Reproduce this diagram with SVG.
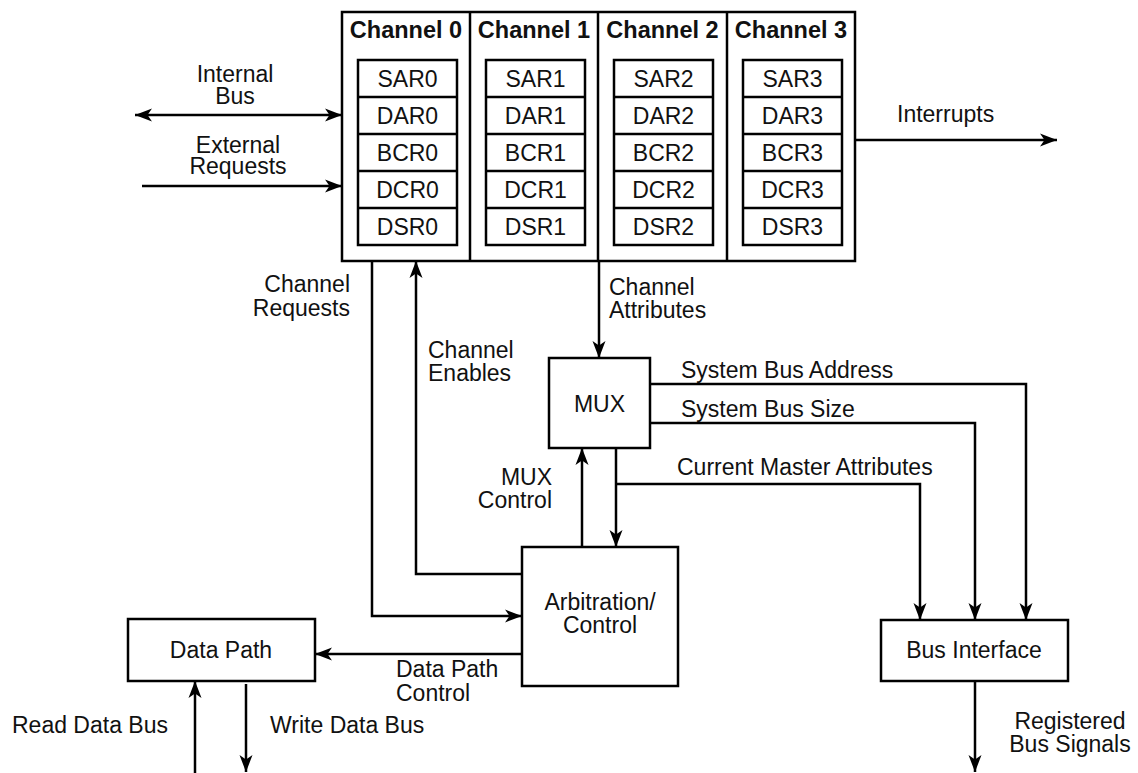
<svg xmlns="http://www.w3.org/2000/svg" width="1138" height="773" viewBox="0 0 1138 773">
<defs>
<marker id="ah" markerUnits="userSpaceOnUse" markerWidth="20" markerHeight="16" refX="17" refY="8" orient="auto-start-reverse" viewBox="0 0 20 16">
<path d="M0,1.5 L17,8 L0,14.5 L4.5,8 z" fill="#000"/>
</marker>
<style>
.box{fill:#fff;stroke:#000;stroke-width:2.5}
.reg{fill:none;stroke:#000;stroke-width:2.5}
.ln{fill:none;stroke:#000;stroke-width:2.5}
.t{font-family:"Liberation Sans",Arial,Helvetica,sans-serif;font-size:23px;fill:#111}
.h{font-family:"Liberation Sans",Arial,Helvetica,sans-serif;font-size:23.5px;font-weight:bold;fill:#111}
.c{text-anchor:middle}
.e{text-anchor:end}
.arr{fill:none;stroke:#000;stroke-width:2.5;marker-end:url(#ah)}
</style>
</defs>
<rect width="1138" height="773" fill="#fff"/>

<g id="connectors">
<line class="arr" x1="135" y1="115" x2="342" y2="115" style="marker-start:url(#ah)"/>
<line class="arr" x1="142" y1="186" x2="342" y2="186"/>
<line class="arr" x1="856" y1="140" x2="1057" y2="140"/>
<path class="arr" d="M372,261 V616 H522"/>
<path class="arr" d="M522,574 H416 V261"/>
<path class="arr" d="M599,261 V358"/>
<path class="arr" d="M582,547 V448"/>
<path class="arr" d="M616,448 V547"/>
<path class="arr" d="M616,484 H920 V620"/>
<path class="arr" d="M650,384 H1026 V620"/>
<path class="arr" d="M650,423 H975 V620"/>
<path class="arr" d="M522,654 H315"/>
<path class="arr" d="M195,773 V681"/>
<path class="arr" d="M246,684 V772"/>
<path class="arr" d="M975,681 V772"/>
</g>

<g id="labels">
<text class="t c"><tspan x="235" y="82">Internal</tspan><tspan x="235" y="104">Bus</tspan></text>
<text class="t c"><tspan x="238" y="153">External</tspan><tspan x="238" y="174">Requests</tspan></text>
<text class="t" x="897" y="122">Interrupts</text>
<text class="t e"><tspan x="350" y="292">Channel</tspan><tspan x="350" y="316">Requests</tspan></text>
<text class="t"><tspan x="428" y="358">Channel</tspan><tspan x="428" y="381">Enables</tspan></text>
<text class="t"><tspan x="609" y="295">Channel</tspan><tspan x="609" y="318">Attributes</tspan></text>
<text class="t" x="681" y="378">System Bus Address</text>
<text class="t" x="681" y="417">System Bus Size</text>
<text class="t" x="677" y="475">Current Master Attributes</text>
<text class="t e"><tspan x="552" y="485">MUX</tspan><tspan x="552" y="508">Control</tspan></text>
<text class="t"><tspan x="396" y="677">Data Path</tspan><tspan x="396" y="701">Control</tspan></text>
<text class="t" x="12" y="733">Read Data Bus</text>
<text class="t" x="270" y="733">Write Data Bus</text>
<text class="t c"><tspan x="1070" y="729">Registered</tspan><tspan x="1070" y="752">Bus Signals</tspan></text>
</g>

<g id="channels">
<rect class="box" x="342" y="12" width="513" height="249"/>
<line class="ln" x1="470" y1="12" x2="470" y2="261"/>
<line class="ln" x1="598" y1="12" x2="598" y2="261"/>
<line class="ln" x1="727" y1="12" x2="727" y2="261"/>
</g>

<g id="channel0">
<text class="h c" x="406" y="38">Channel 0</text>
<rect class="reg" x="358" y="60" width="99" height="185"/>
<path class="ln" d="M358,97 H457 M358,134 H457 M358,171 H457 M358,208 H457"/>
<text class="t c" x="407.5" y="87">SAR0</text>
<text class="t c" x="407.5" y="124">DAR0</text>
<text class="t c" x="407.5" y="161">BCR0</text>
<text class="t c" x="407.5" y="198">DCR0</text>
<text class="t c" x="407.5" y="235">DSR0</text>
</g>
<g id="channel1">
<text class="h c" x="534" y="38">Channel 1</text>
<rect class="reg" x="486" y="60" width="99" height="185"/>
<path class="ln" d="M486,97 H585 M486,134 H585 M486,171 H585 M486,208 H585"/>
<text class="t c" x="535.5" y="87">SAR1</text>
<text class="t c" x="535.5" y="124">DAR1</text>
<text class="t c" x="535.5" y="161">BCR1</text>
<text class="t c" x="535.5" y="198">DCR1</text>
<text class="t c" x="535.5" y="235">DSR1</text>
</g>
<g id="channel2">
<text class="h c" x="662.5" y="38">Channel 2</text>
<rect class="reg" x="614" y="60" width="99" height="185"/>
<path class="ln" d="M614,97 H713 M614,134 H713 M614,171 H713 M614,208 H713"/>
<text class="t c" x="663.5" y="87">SAR2</text>
<text class="t c" x="663.5" y="124">DAR2</text>
<text class="t c" x="663.5" y="161">BCR2</text>
<text class="t c" x="663.5" y="198">DCR2</text>
<text class="t c" x="663.5" y="235">DSR2</text>
</g>
<g id="channel3">
<text class="h c" x="791" y="38">Channel 3</text>
<rect class="reg" x="743" y="60" width="99" height="185"/>
<path class="ln" d="M743,97 H842 M743,134 H842 M743,171 H842 M743,208 H842"/>
<text class="t c" x="792.5" y="87">SAR3</text>
<text class="t c" x="792.5" y="124">DAR3</text>
<text class="t c" x="792.5" y="161">BCR3</text>
<text class="t c" x="792.5" y="198">DCR3</text>
<text class="t c" x="792.5" y="235">DSR3</text>
</g>

<g id="mux">
<rect class="box" x="549" y="358" width="101" height="90"/>
<text class="t c" x="599.5" y="412">MUX</text>
</g>
<g id="arbitration">
<rect class="box" x="522" y="547" width="156" height="139"/>
<text class="t c"><tspan x="600" y="610">Arbitration/</tspan><tspan x="600" y="633">Control</tspan></text>
</g>
<g id="datapath">
<rect class="box" x="128" y="619" width="187" height="62"/>
<text class="t c" x="221" y="658">Data Path</text>
</g>
<g id="businterface">
<rect class="box" x="881" y="620" width="187" height="61"/>
<text class="t c" x="974" y="658">Bus Interface</text>
</g>
</svg>
